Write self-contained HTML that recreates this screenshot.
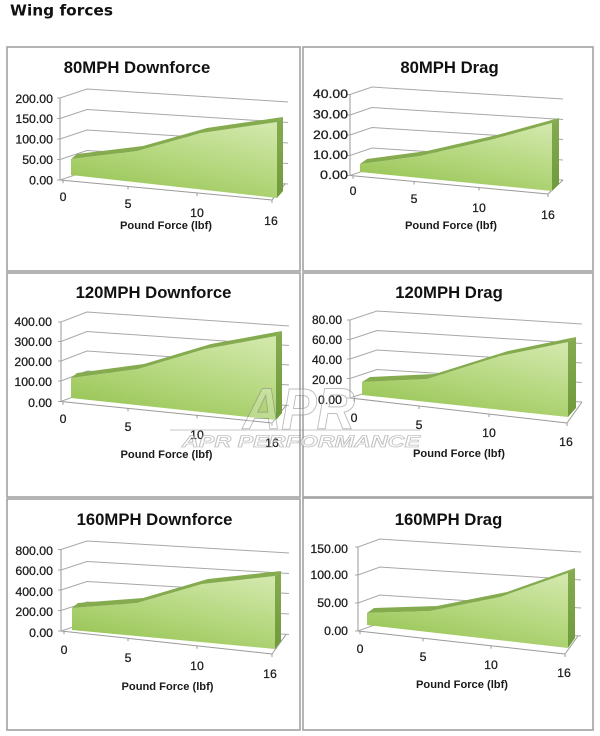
<!DOCTYPE html>
<html><head><meta charset="utf-8"><style>
html,body{margin:0;padding:0;background:#fff;}
svg{display:block;}
.pb{fill:#fff;stroke:#a2a2a2;stroke-width:1.6;}
.gl{fill:none;stroke:#a8a8a8;stroke-width:1;}
.ax{fill:none;stroke:#9a9a9a;stroke-width:1;}
.t{font-family:"Liberation Sans",Arial,sans-serif;font-weight:bold;font-size:16.7px;fill:#111;text-anchor:middle;}
.yl{font-family:"Liberation Sans",Arial,sans-serif;font-size:12.3px;fill:#1a1a1a;text-anchor:end;stroke:#1a1a1a;stroke-width:0.25;}
.xl{font-family:"Liberation Sans",Arial,sans-serif;font-size:12.3px;fill:#1a1a1a;text-anchor:middle;stroke:#1a1a1a;stroke-width:0.25;}
.at{font-family:"Liberation Sans",Arial,sans-serif;font-weight:bold;font-size:11.2px;fill:#1a1a1a;text-anchor:middle;}
.fr{fill:url(#gf);}
.bd{fill:#85ab4f;}
.rs{fill:url(#gr);}
</style></head><body>
<svg width="600" height="736" viewBox="0 0 600 736" xmlns="http://www.w3.org/2000/svg">
<defs>
<linearGradient id="gf" x1="0.9" y1="0" x2="0.3" y2="1">
<stop offset="0" stop-color="#d2e8ab"/>
<stop offset="0.5" stop-color="#b6d880"/>
<stop offset="1" stop-color="#99c556"/>
</linearGradient>
<linearGradient id="gr" x1="0" y1="0" x2="0" y2="1">
<stop offset="0" stop-color="#86ab50"/>
<stop offset="1" stop-color="#6f9a3c"/>
</linearGradient>
</defs>

<text x="10" y="15.5" font-family="'DejaVu Sans',Verdana,sans-serif" font-weight="bold" font-size="15.5" fill="#111" textLength="103" lengthAdjust="spacingAndGlyphs">Wing forces</text>

<!-- Panel 1 -->
<rect class="pb" x="7" y="47" width="293" height="224"/>
<text class="t" x="137" y="73">80MPH Downforce</text>
<g class="gl">
<polyline points="57,98 60,98 87,89 288,102"/>
<polyline points="57,118.5 60,118.5 87,109.5 288,122.5"/>
<polyline points="57,139 60,139 87,130 288,143"/>
<polyline points="57,159.5 60,159.5 87,150.5 288,163.5"/>
<polyline points="57,180 60,180 87,171 288,184"/>
</g>
<g class="ax">
<line x1="60" y1="98" x2="60" y2="180"/>
<line x1="60" y1="180" x2="272" y2="200"/>
<line x1="272" y1="200" x2="285" y2="184"/>
<line x1="63" y1="180.3" x2="63" y2="183.3"/>
<line x1="128" y1="186.4" x2="128" y2="189.5"/>
<line x1="197" y1="193" x2="197" y2="196"/>
<line x1="272" y1="200" x2="272" y2="203"/>
</g>
<path class="fr" d="M71,175 L71,159 L137,151 L201,133 L277,122 L277,198 Z"/>
<path class="bd" d="M71,159 L137,151 L201,133 L277,122 L283,117 L207,128 L143,146 L77,154 Z"/>
<path class="rs" d="M277,122 L283,117 L283,191 L277,198 Z"/>
<text class="yl" x="53" y="103">200.00</text>
<text class="yl" x="53" y="123">150.00</text>
<text class="yl" x="53" y="143.5">100.00</text>
<text class="yl" x="53" y="164">50.00</text>
<text class="yl" x="53" y="184.5">0.00</text>
<text class="xl" x="63" y="201">0</text>
<text class="xl" x="128" y="208">5</text>
<text class="xl" x="197" y="217">10</text>
<text class="xl" x="271" y="225">16</text>
<text class="at" x="166" y="229" textLength="92" lengthAdjust="spacingAndGlyphs">Pound Force (lbf)</text>

<!-- Panel 2 -->
<rect class="pb" x="303" y="47" width="290" height="224"/>
<text class="t" x="449.5" y="73">80MPH Drag</text>
<g class="gl">
<polyline points="347,94.5 350,94.5 372,87 563,99"/>
<polyline points="347,115 350,115 372,107.5 563,119.5"/>
<polyline points="347,135 350,135 372,127.5 563,139.5"/>
<polyline points="347,155.5 350,155.5 372,148 563,160"/>
<polyline points="347,175.5 350,175.5 372,168 563,180"/>
</g>
<g class="ax">
<line x1="350" y1="94.5" x2="350" y2="175.5"/>
<line x1="350" y1="175.5" x2="548" y2="194"/>
<line x1="548" y1="194" x2="563" y2="180"/>
<line x1="353" y1="175.8" x2="353" y2="178.8"/>
<line x1="414" y1="181.5" x2="414" y2="184.5"/>
<line x1="479" y1="187.5" x2="479" y2="190.5"/>
<line x1="548" y1="194" x2="548" y2="197"/>
</g>
<path class="fr" d="M360,172 L360,164 L420,156 L490,140 L552,123 L552,191 Z"/>
<path class="bd" d="M360,164 L420,156 L490,140 L552,123 L559,118 L497,135 L427,151 L367,159 Z"/>
<path class="rs" d="M552,123 L559,118 L559,184 L552,191 Z"/>
<text class="yl" x="348" y="98" textLength="35" lengthAdjust="spacingAndGlyphs">40.00</text>
<text class="yl" x="348" y="118.5" textLength="35" lengthAdjust="spacingAndGlyphs">30.00</text>
<text class="yl" x="348" y="139" textLength="35" lengthAdjust="spacingAndGlyphs">20.00</text>
<text class="yl" x="348" y="159" textLength="35" lengthAdjust="spacingAndGlyphs">10.00</text>
<text class="yl" x="348" y="179" textLength="28" lengthAdjust="spacingAndGlyphs">0.00</text>
<text class="xl" x="353" y="195">0</text>
<text class="xl" x="414" y="203">5</text>
<text class="xl" x="479" y="212">10</text>
<text class="xl" x="548" y="219">16</text>
<text class="at" x="451" y="229" textLength="92" lengthAdjust="spacingAndGlyphs">Pound Force (lbf)</text>

<!-- Panel 3 -->
<rect class="pb" x="7" y="273" width="293" height="224"/>
<text class="t" x="153.5" y="298">120MPH Downforce</text>
<g class="gl">
<polyline points="58,322 61,322 87,312 289,326"/>
<polyline points="58,341.5 61,341.5 87,331.5 289,345.5"/>
<polyline points="58,361 61,361 87,351 289,365"/>
<polyline points="58,381 61,381 87,371 289,385"/>
<polyline points="58,401.5 61,401.5 87,391.5 289,405.5"/>
</g>
<g class="ax">
<line x1="61" y1="322" x2="61" y2="401.5"/>
<line x1="61" y1="401.5" x2="272" y2="423"/>
<line x1="272" y1="423" x2="286" y2="405.5"/>
<line x1="63" y1="401.7" x2="63" y2="404.7"/>
<line x1="128" y1="408.3" x2="128" y2="411.3"/>
<line x1="197" y1="415.4" x2="197" y2="418.4"/>
<line x1="272" y1="423" x2="272" y2="426"/>
</g>
<path class="fr" d="M71,398 L71,378 L138,369 L205,349 L276,336 L276,420 Z"/>
<path class="bd" d="M71,378 L138,369 L205,349 L276,336 L282,331 L211,344 L144,364 L77,373 Z"/>
<path class="rs" d="M276,336 L282,331 L282,413 L276,420 Z"/>
<text class="yl" x="52" y="326">400.00</text>
<text class="yl" x="52" y="346">300.00</text>
<text class="yl" x="52" y="366">200.00</text>
<text class="yl" x="52" y="386">100.00</text>
<text class="yl" x="52" y="407">0.00</text>
<text class="xl" x="63" y="423">0</text>
<text class="xl" x="128" y="431">5</text>
<text class="xl" x="197" y="439">10</text>
<text class="xl" x="272" y="447">16</text>
<text class="at" x="166.5" y="458" textLength="92" lengthAdjust="spacingAndGlyphs">Pound Force (lbf)</text>

<!-- Panel 4 -->
<rect class="pb" x="303" y="273" width="290" height="224"/>
<text class="t" x="449" y="298">120MPH Drag</text>
<g class="gl">
<polyline points="347,320 350,320 377,311 582,324"/>
<polyline points="347,339.5 350,339.5 377,330.5 582,343.5"/>
<polyline points="347,359 350,359 377,350 582,363"/>
<polyline points="347,378.5 350,378.5 377,369.5 582,382.5"/>
<polyline points="347,398 350,398 377,389 582,402"/>
</g>
<g class="ax">
<line x1="350" y1="320" x2="350" y2="398"/>
<line x1="350" y1="398" x2="567" y2="423"/>
<line x1="567" y1="423" x2="582" y2="402"/>
<line x1="354" y1="398.5" x2="354" y2="401.5"/>
<line x1="419" y1="406" x2="419" y2="409"/>
<line x1="489" y1="414" x2="489" y2="417"/>
<line x1="567" y1="423" x2="567" y2="426"/>
</g>
<path class="fr" d="M362,395 L362,382 L427,379 L500,356 L568,342 L568,417 Z"/>
<path class="bd" d="M362,382 L427,379 L500,356 L568,342 L576,337 L508,351 L435,374 L370,377 Z"/>
<path class="rs" d="M568,342 L576,337 L576,408 L568,417 Z"/>
<text class="yl" x="342" y="324" textLength="30" lengthAdjust="spacingAndGlyphs">80.00</text>
<text class="yl" x="342" y="344" textLength="30" lengthAdjust="spacingAndGlyphs">60.00</text>
<text class="yl" x="342" y="364" textLength="30" lengthAdjust="spacingAndGlyphs">40.00</text>
<text class="yl" x="342" y="384" textLength="30" lengthAdjust="spacingAndGlyphs">20.00</text>
<text class="yl" x="342" y="404" textLength="24" lengthAdjust="spacingAndGlyphs">0.00</text>
<text class="xl" x="354" y="422">0</text>
<text class="xl" x="419" y="429">5</text>
<text class="xl" x="489" y="437">10</text>
<text class="xl" x="566" y="446">16</text>
<text class="at" x="459" y="457" textLength="92" lengthAdjust="spacingAndGlyphs">Pound Force (lbf)</text>

<!-- Panel 5 -->
<rect class="pb" x="7" y="499" width="293" height="231"/>
<text class="t" x="154.5" y="525">160MPH Downforce</text>
<g class="gl">
<polyline points="58,549.5 61,549.5 87,541 289,553"/>
<polyline points="58,570 61,570 87,561.5 289,573.5"/>
<polyline points="58,590 61,590 87,581.5 289,593.5"/>
<polyline points="58,610.5 61,610.5 87,602 289,614"/>
<polyline points="58,631 61,631 87,622.5 289,634.5"/>
</g>
<g class="ax">
<line x1="61" y1="549.5" x2="61" y2="631"/>
<line x1="61" y1="631" x2="272" y2="654"/>
<line x1="272" y1="654" x2="286" y2="634.5"/>
<line x1="64" y1="631.3" x2="64" y2="634.3"/>
<line x1="128" y1="638.3" x2="128" y2="641.3"/>
<line x1="197" y1="645.8" x2="197" y2="648.8"/>
<line x1="272" y1="654" x2="272" y2="657"/>
</g>
<path class="fr" d="M72,630 L72,608 L137,603 L202,584 L275,576 L275,649 Z"/>
<path class="bd" d="M72,608 L137,603 L202,584 L275,576 L281,571 L208,579 L143,598 L78,603 Z"/>
<path class="rs" d="M275,576 L281,571 L281,641 L275,649 Z"/>
<text class="yl" x="53" y="555">800.00</text>
<text class="yl" x="53" y="575">600.00</text>
<text class="yl" x="53" y="596">400.00</text>
<text class="yl" x="53" y="616">200.00</text>
<text class="yl" x="53" y="637">0.00</text>
<text class="xl" x="64" y="654">0</text>
<text class="xl" x="128" y="662">5</text>
<text class="xl" x="197" y="670">10</text>
<text class="xl" x="270" y="678">16</text>
<text class="at" x="167.5" y="690" textLength="92" lengthAdjust="spacingAndGlyphs">Pound Force (lbf)</text>

<!-- Panel 6 -->
<rect class="pb" x="303" y="498" width="290" height="232"/>
<text class="t" x="448.5" y="525">160MPH Drag</text>
<g class="gl">
<polyline points="355,547 358,547 380,539 581,552"/>
<polyline points="355,575 358,575 380,567 581,580"/>
<polyline points="355,603 358,603 380,595 581,608"/>
<polyline points="355,631 358,631 380,623 581,636"/>
</g>
<g class="ax">
<line x1="358" y1="547" x2="358" y2="631"/>
<line x1="358" y1="631" x2="565" y2="654"/>
<line x1="565" y1="654" x2="578" y2="636"/>
<line x1="360" y1="631.2" x2="360" y2="634.2"/>
<line x1="423" y1="638.2" x2="423" y2="641.2"/>
<line x1="491" y1="645.8" x2="491" y2="648.8"/>
<line x1="565" y1="654" x2="565" y2="657"/>
</g>
<path class="fr" d="M367,625 L367,613 L430,611 L500,597 L568,573 L568,648 Z"/>
<path class="bd" d="M367,613 L430,611 L500,597 L568,573 L575,568 L507,592 L437,606 L374,608 Z"/>
<path class="rs" d="M568,573 L575,568 L575,638 L568,648 Z"/>
<text class="yl" x="348" y="553">150.00</text>
<text class="yl" x="348" y="579">100.00</text>
<text class="yl" x="348" y="607">50.00</text>
<text class="yl" x="348" y="635">0.00</text>
<text class="xl" x="360" y="653">0</text>
<text class="xl" x="423" y="661">5</text>
<text class="xl" x="491" y="669">10</text>
<text class="xl" x="564" y="677">16</text>
<text class="at" x="462" y="688" textLength="92" lengthAdjust="spacingAndGlyphs">Pound Force (lbf)</text>

<!-- Watermark -->
<g opacity="0.55">
<text x="243" y="429" font-family="'Liberation Sans',Arial,sans-serif" font-weight="bold" font-style="italic" font-size="58" fill="#ffffff" fill-opacity="0.4" stroke="#8a8a8a" stroke-width="1" textLength="112" lengthAdjust="spacingAndGlyphs">APR</text>
<line x1="170" y1="430" x2="420" y2="430" stroke="#9a9a9a" stroke-width="1"/>
<text x="182" y="447" font-family="'Liberation Sans',Arial,sans-serif" font-weight="bold" font-style="italic" font-size="17" fill="#ffffff" stroke="#8f8f8f" stroke-width="0.8" textLength="238" lengthAdjust="spacingAndGlyphs">APR PERFORMANCE</text>
</g>
</svg>
</body></html>
